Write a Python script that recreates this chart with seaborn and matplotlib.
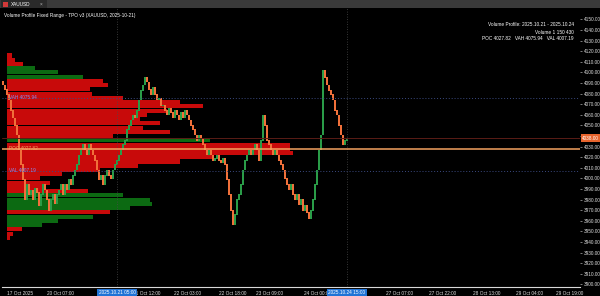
import matplotlib
matplotlib.use("Agg")
import matplotlib.pyplot as plt
from matplotlib.patches import Rectangle
import numpy as np
import pandas as pd
import seaborn as sns

# ---------------- data ----------------
closes = [
    4088, 4084, 4079, 4074, 4064, 4057, 4050, 4041, 4027, 4013, 3999, 3980,
    3994, 3985, 3989, 3980, 3991, 3987, 3974, 3985, 3994,
    3989, 3980, 3970, 3980, 3985, 3976, 3985, 3989, 3994, 3985,
    3994, 3989, 3999, 3994, 4003, 4008,
    4013, 4022, 4027, 4032, 4027, 4022, 4032, 4027,
    4022, 4017, 4008, 3999, 4003, 3994, 4003,
    4008, 4003, 4000, 4008, 4013, 4017,
    4022, 4027, 4032, 4036, 4046, 4050, 4055,
    4060, 4057, 4064, 4074, 4083, 4088, 4095,
    4091, 4084, 4079, 4086, 4079, 4074, 4076, 4069,
    4069, 4064, 4060, 4066, 4062, 4057, 4064, 4060, 4055, 4062,
    4057, 4064, 4060, 4055, 4050, 4046, 4041,
    4036, 4041, 4038, 4032, 4027, 4022, 4027,
    4022, 4017, 4019, 4022, 4017, 4015, 4019, 4013,
    3999, 3985, 3970, 3956, 3966, 3980,
    3985, 3994, 4008, 4017, 4022, 4027,
    4022, 4027, 4032, 4027, 4017, 4036, 4060, 4050,
    4036, 4032, 4027, 4022, 4027, 4022, 4017, 4013,
    4008, 4000, 3994, 3989, 3994, 3985,
    3980, 3985, 3975, 3980, 3970, 3975,
    3968, 3962, 3970, 3980,
    3994, 4008, 4027, 4041, 4102,
    4095, 4088, 4083, 4079, 4074, 4064, 4060, 4050, 4041, 4032, 4036, 4038,
]
first_open = 4092

profile_price = [4116, 4112, 4108, 4104, 4100, 4096, 4092, 4088, 4084, 4080,
                 4076, 4072, 4068, 4064, 4060, 4056, 4052, 4048, 4044, 4040,
                 4036, 4032, 4028, 4024, 4020, 4016, 4012, 4008, 4004, 4000,
                 3996, 3992, 3988, 3984, 3980, 3976, 3972, 3968, 3964, 3960,
                 3956, 3952, 3948, 3944]
profile_volume = [5, 8, 16, 28, 51, 76, 96, 101, 83, 85,
                  116, 173, 196, 160, 140, 133, 153, 136, 163, 106,
                  203, 283, 283, 286, 206, 173, 131, 93, 55, 33,
                  43, 38, 81, 116, 143, 145, 123, 103, 86, 51,
                  35, 15, 6, 3]
profile_side = ["sell", "sell", "sell", "buy", "buy", "buy", "sell", "sell", "sell", "sell",
                "sell", "sell", "sell", "sell", "sell", "sell", "sell", "sell", "sell", "sell",
                "buy", "sell", "sell", "sell", "sell", "sell", "sell", "sell", "sell", "sell",
                "sell", "sell", "sell", "buy", "buy", "buy", "buy", "sell", "buy", "buy",
                "buy", "sell", "sell", "sell"]

poc, vah, val = 4027.82, 4075.94, 4007.19
price_ticks = list(range(3900, 4151, 10))
date_tick_pos = [8.5, 28.5, 72, 92, 115, 133.5, 157, 198.5, 220, 242, 263.5, 283.5]
date_tick_labels = ["17 Oct 2025", "20 Oct 07:00", "21 Oct 12:00", "22 Oct 03:00",
                    "22 Oct 18:00", "23 Oct 09:00", "24 Oct 00:00", "27 Oct 07:00",
                    "27 Oct 22:00", "28 Oct 13:00", "29 Oct 04:00", "29 Oct 19:00"]
range_marks = [57, 172]
range_labels = ["2025.10.21 05:00", "2025.10.24 15:00"]

# ---------------- style ----------------
sns.set_theme(style="dark")
plt.rcParams["font.family"] = ["Liberation Sans", "DejaVu Sans"]
FS = 3.4

W, H = 600, 296
fig = plt.figure(figsize=(W / 100, H / 100), dpi=100, facecolor="black")

L, R, T, B = 2, 580, 8, 287
rect = [L / W, (H - B) / H, (R - L) / W, (B - T) / H]
ymin, ymax = 3897.6, 4160.8

# profile axes (underneath)
axp = fig.add_axes(rect, zorder=1)
axp.set_facecolor("black")
prof = pd.DataFrame({"price": profile_price, "volume": profile_volume, "side": profile_side})
sns.barplot(data=prof, x="volume", y="price", hue="side", orient="y", native_scale=True,
            palette={"sell": "#c80a0a", "buy": "#0c6a12"}, width=0.95, dodge=False,
            legend=False, ax=axp, linewidth=0, saturation=1)
axp.set_xlim(-5, (R - L) - 5)
axp.set_ylim(ymin, ymax)
axp.set_xticks([]); axp.set_yticks([])
axp.set_xlabel(""); axp.set_ylabel("")
for s in axp.spines.values():
    s.set_visible(False)

# candle axes
ax = fig.add_axes(rect, zorder=2)
ax.set_facecolor("none")
idx = np.arange(len(closes))
opens = [first_open] + closes[:-1]
lo = [min(o, c) for o, c in zip(opens, closes)]
hi = [max(o, c) for o, c in zip(opens, closes)]
UP, DOWN = "#2a9c48", "#f0703a"
cols = [UP if c >= o else DOWN for o, c in zip(opens, closes)]
ax.bar(idx, [h - l + 0.6 for h, l in zip(hi, lo)], bottom=[l - 0.3 for l in lo], width=0.9,
       color=cols, linewidth=0)

ax.set_xlim(-0.5, (R - L) / 2 - 0.5)
ax.set_ylim(ymin, ymax)

# reference lines
ax.axhline(vah, color="#3b4a80", lw=0.7, ls=(0, (1, 2)))
ax.axhline(val, color="#3b4a80", lw=0.7, ls=(0, (1, 2)))
ax.axhline(closes[-1], color="#5a1c16", lw=0.7)
ax.axhline(poc, color="#f4a261", lw=1.1, zorder=5)
for m in range_marks:
    ax.axvline(m, color="#4a4a4a", lw=0.6, ls=(0, (1, 2)))

tr = ax.get_yaxis_transform()
ax.text(3, vah, f"VAH {vah:.2f}", color="#8c8cf0", fontsize=FS, va="center")
ax.text(3, poc, f"POC {poc:.2f}", color="#f4a261", fontsize=FS, va="center")
ax.text(3, val, f"VAL {val:.2f}", color="#8c8cf0", fontsize=FS, va="center")

# axes styling
for s in ["top", "right", "left"]:
    ax.spines[s].set_visible(False)
ax.spines["bottom"].set_color("#d8d8d8")
ax.spines["bottom"].set_linewidth(0.8)
ax.axvline(ax.get_xlim()[1], color="#d8d8d8", lw=0.6)

ax.yaxis.tick_right()
ax.set_yticks(price_ticks)
ax.set_yticklabels(["" if p == 4040 else f"{p:.2f}" for p in price_ticks])
ax.tick_params(axis="y", colors="#dddddd", labelsize=FS, length=1.5, width=0.4, pad=1)
ax.set_xticks(date_tick_pos)
ax.set_xticklabels(date_tick_labels)
ax.tick_params(axis="x", colors="#dddddd", labelsize=FS, length=1.5, width=0.4, pad=1.2)
ax.grid(False)

# range markers on the time axis
for m, lab in zip(range_marks, range_labels):
    ax.annotate(lab, xy=(m, 0), xycoords=ax.get_xaxis_transform(), xytext=(0, -4.3),
                textcoords="offset points", ha="center", va="center", fontsize=FS,
                color="white", annotation_clip=False,
                bbox=dict(boxstyle="square,pad=0.25", fc="#1f73d6", ec="none"))

# current price tag
ax.annotate(f"{closes[-1]:.2f}", xy=(1, closes[-1]), xycoords=tr, xytext=(1.5, 0),
            textcoords="offset points", ha="left", va="center", fontsize=FS,
            color="white", annotation_clip=False,
            bbox=dict(boxstyle="square,pad=0.25", fc="#e8652e", ec="none"))

# header bar
fig.patches.append(Rectangle((0, 1 - 8 / H), 1, 8 / H, transform=fig.transFigure,
                             fc="#3a3a3a", ec="none", zorder=0))
fig.patches.append(Rectangle((1 / W, 1 - 8 / H), 46 / W, 8 / H, transform=fig.transFigure,
                             fc="#2a2a2a", ec="none", zorder=0))
fig.patches.append(Rectangle((3 / W, 1 - 6.5 / H), 5 / W, 5 / H, transform=fig.transFigure,
                             fc="#d23a3a", ec="none", zorder=1))
fig.text(11 / W, 1 - 4 / H, "XAUUSD", color="white", fontsize=FS, va="center")
fig.text(40 / W, 1 - 4 / H, "×", color="#bbbbbb", fontsize=FS, va="center")
fig.text(4 / W, 1 - 15.5 / H, "Volume Profile Fixed Range - TPO v3 (XAUUSD, 2025-10-21)",
         color="white", fontsize=FS, va="center")
fig.text(574 / W, 1 - 25 / H, "Volume Profile: 2025.10.21 - 2025.10.24", color="white",
         fontsize=FS, va="center", ha="right")
fig.text(574 / W, 1 - 32 / H, "Volume 1 150 430", color="white",
         fontsize=FS, va="center", ha="right")
fig.text(574 / W, 1 - 39 / H, f"POC {poc:.2f}   VAH {vah:.2f}   VAL {val:.2f}", color="white",
         fontsize=FS, va="center", ha="right")

fig.savefig("out.png", dpi=100, facecolor="black")
